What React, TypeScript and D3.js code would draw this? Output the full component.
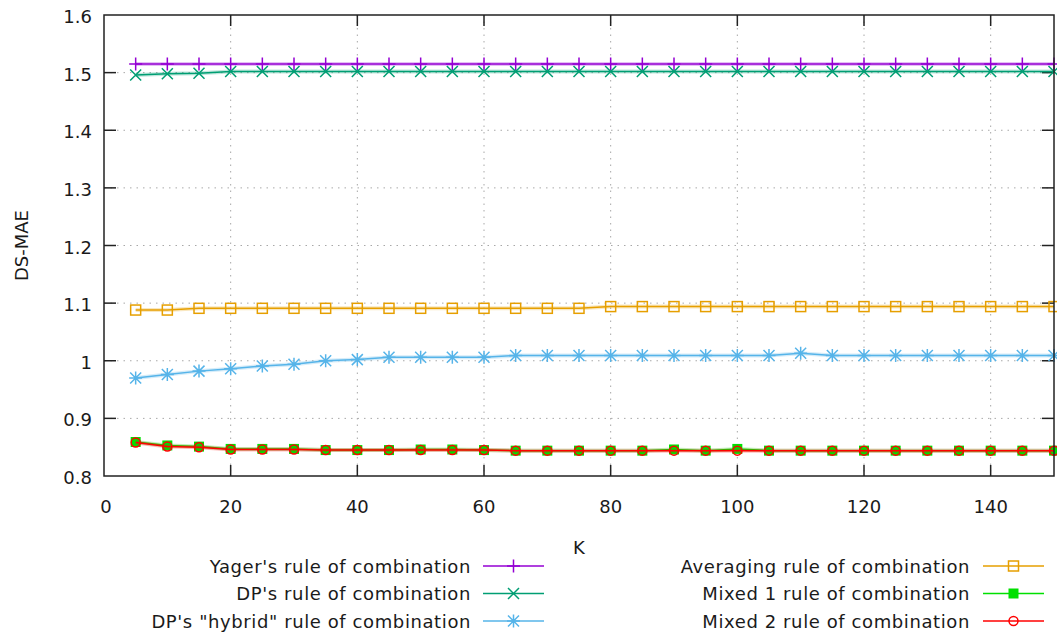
import React from "react";
import * as d3 from "d3";

const kValues = [5, 10, 15, 20, 25, 30, 35, 40, 45, 50, 55, 60, 65, 70, 75, 80, 85, 90, 95, 100, 105, 110, 115, 120, 125, 130, 135, 140, 145, 150];

const yager = [1.515, 1.515, 1.515, 1.515, 1.515, 1.515, 1.515, 1.515, 1.515, 1.515, 1.515, 1.515, 1.515, 1.515, 1.515, 1.515, 1.515, 1.515, 1.515, 1.515, 1.515, 1.515, 1.515, 1.515, 1.515, 1.515, 1.515, 1.515, 1.515, 1.515];
const dp = [1.496, 1.498, 1.499, 1.502, 1.502, 1.502, 1.502, 1.502, 1.502, 1.502, 1.502, 1.502, 1.502, 1.502, 1.502, 1.502, 1.502, 1.502, 1.502, 1.502, 1.502, 1.502, 1.502, 1.502, 1.502, 1.502, 1.502, 1.502, 1.502, 1.502];
const hybrid = [0.970, 0.976, 0.982, 0.986, 0.991, 0.994, 1.000, 1.002, 1.006, 1.006, 1.006, 1.006, 1.009, 1.009, 1.009, 1.009, 1.009, 1.009, 1.009, 1.009, 1.009, 1.013, 1.009, 1.009, 1.009, 1.009, 1.009, 1.009, 1.009, 1.009];
const averaging = [1.088, 1.088, 1.091, 1.091, 1.091, 1.091, 1.091, 1.091, 1.091, 1.091, 1.091, 1.091, 1.091, 1.091, 1.091, 1.094, 1.094, 1.094, 1.094, 1.094, 1.094, 1.094, 1.094, 1.094, 1.094, 1.094, 1.094, 1.094, 1.094, 1.094];
const mixed1 = [0.859, 0.853, 0.851, 0.847, 0.847, 0.847, 0.845, 0.845, 0.845, 0.846, 0.846, 0.845, 0.844, 0.844, 0.844, 0.844, 0.844, 0.846, 0.844, 0.847, 0.844, 0.844, 0.844, 0.844, 0.844, 0.844, 0.844, 0.844, 0.844, 0.844];
const mixed2 = [0.858, 0.851, 0.850, 0.846, 0.846, 0.846, 0.845, 0.845, 0.845, 0.845, 0.845, 0.845, 0.844, 0.844, 0.844, 0.844, 0.844, 0.844, 0.844, 0.844, 0.844, 0.844, 0.844, 0.844, 0.844, 0.844, 0.844, 0.844, 0.844, 0.844];

const xTicks = [0, 20, 40, 60, 80, 100, 120, 140];
const yTicks = [0.8, 0.9, 1, 1.1, 1.2, 1.3, 1.4, 1.5, 1.6];

const series = [
  { name: "Yager's rule of combination", values: yager, color: "#9400d3", marker: "plus" },
  { name: "DP's rule of combination", values: dp, color: "#009e73", marker: "cross" },
  { name: "DP's \"hybrid\" rule of combination", values: hybrid, color: "#56b4e9", marker: "star" },
  { name: "Averaging rule of combination", values: averaging, color: "#e69f00", marker: "square" },
  { name: "Mixed 1 rule of combination", values: mixed1, color: "#00e000", marker: "filledSquare" },
  { name: "Mixed 2 rule of combination", values: mixed2, color: "#ff0000", marker: "circle" },
];

const W = 1057;
const H = 636;
const left = 104;
const right = 1054;
const top = 15;
const bottom = 476;
const font = "'DejaVu Sans', Verdana, sans-serif";
const textColor = "#1a1a1a";

const Marker = ({ type, x, y, color }: { type: string; x: number; y: number; color: string }) => {
  const sw = 1.5;
  if (type === "plus") {
    return <path d={`M${x - 6.5},${y}H${x + 6.5}M${x},${y - 6.5}V${y + 6.5}`} stroke={color} strokeWidth={sw} fill="none" />;
  }
  if (type === "cross") {
    const s = 5.5;
    return <path d={`M${x - s},${y - s}L${x + s},${y + s}M${x - s},${y + s}L${x + s},${y - s}`} stroke={color} strokeWidth={sw} fill="none" />;
  }
  if (type === "star") {
    const s = 5.5;
    return (
      <path
        d={`M${x - s},${y - s}L${x + s},${y + s}M${x - s},${y + s}L${x + s},${y - s}M${x - 6.5},${y}H${x + 6.5}M${x},${y - 6.5}V${y + 6.5}`}
        stroke={color}
        strokeWidth={sw}
        fill="none"
      />
    );
  }
  if (type === "square") {
    return <rect x={x - 5} y={y - 5} width={10} height={10} stroke={color} strokeWidth={sw} fill="none" />;
  }
  if (type === "filledSquare") {
    return <rect x={x - 5} y={y - 5} width={10} height={10} fill={color} />;
  }
  return <circle cx={x} cy={y} r={4.5} stroke={color} strokeWidth={sw} fill="none" />;
};

const App = () => {
  const x = d3.scaleLinear().domain([0, 150]).range([left, right]);
  const y = d3.scaleLinear().domain([0.8, 1.6]).range([bottom, top]);

  const line = d3
    .line<number>()
    .x((_, i) => x(kValues[i]))
    .y((d) => y(d));

  const legendRows = [566, 593.5, 621];

  return (
    <svg
      width={W}
      height={H}
      viewBox={`0 0 ${W} ${H}`}
      style={{ position: "absolute", left: 0, top: 0, background: "#fff" }}
      fontFamily={font}
    >
      <rect width={W} height={H} fill="#fff" />

      {/* grid */}
      {xTicks.slice(1).map((t) => (
        <line key={"gx" + t} x1={x(t)} x2={x(t)} y1={top} y2={bottom} stroke="#a8a8a8" strokeWidth={1} strokeDasharray="1.5,5" />
      ))}
      {yTicks.slice(1, -1).map((t) => (
        <line key={"gy" + t} x1={left} x2={right} y1={y(t)} y2={y(t)} stroke="#a8a8a8" strokeWidth={1} strokeDasharray="1.5,5" />
      ))}

      {/* ticks, mirrored on all sides */}
      {xTicks.slice(1).map((t) => (
        <g key={"tx" + t} stroke="#222" strokeWidth={1.5}>
          <line x1={x(t)} x2={x(t)} y1={bottom} y2={bottom - 11} />
          <line x1={x(t)} x2={x(t)} y1={top} y2={top + 11} />
        </g>
      ))}
      {yTicks.slice(1, -1).map((t) => (
        <g key={"ty" + t} stroke="#222" strokeWidth={1.5}>
          <line x1={left} x2={left + 12} y1={y(t)} y2={y(t)} />
          <line x1={right} x2={right - 12} y1={y(t)} y2={y(t)} />
        </g>
      ))}

      {/* series */}
      {series.map((s) => (
        <g key={s.name}>
          <path d={line(s.values) || ""} fill="none" stroke={s.color} strokeWidth={4} strokeOpacity={0.25} />
          <path d={line(s.values) || ""} fill="none" stroke={s.color} strokeWidth={1.5} />
          {s.values.map((v, i) => (
            <Marker key={i} type={s.marker} x={x(kValues[i])} y={y(v)} color={s.color} />
          ))}
        </g>
      ))}

      {/* frame */}
      <rect x={left} y={top} width={right - left} height={bottom - top} fill="none" stroke="#222" strokeWidth={1.5} />

      {/* tick labels */}
      {yTicks.map((t) => (
        <text key={"ly" + t} x={92} y={y(t) + 8} textAnchor="end" fontSize={18} fill={textColor}>
          {t === 1 ? "1" : t.toFixed(1)}
        </text>
      ))}
      {xTicks.map((t) => (
        <text key={"lx" + t} x={x(t) + (t === 0 ? 2 : 0)} y={512.5} textAnchor="middle" fontSize={18} fill={textColor}>
          {t}
        </text>
      ))}

      {/* axis titles */}
      <text x={(left + right) / 2} y={553.5} textAnchor="middle" fontSize={18} fill={textColor}>
        K
      </text>
      <text transform={`translate(28,${(top + bottom) / 2}) rotate(-90)`} textAnchor="middle" fontSize={18} fill={textColor}>
        DS-MAE
      </text>

      {/* legend */}
      {series.map((s, i) => {
        const col = i < 3 ? 0 : 1;
        const row = i % 3;
        const textRight = col === 0 ? 471 : 970;
        const x0 = col === 0 ? 483 : 983;
        const x1 = x0 + 61;
        const cy = legendRows[row];
        return (
          <g key={"lg" + s.name}>
            <text x={textRight} y={cy + 6.5} textAnchor="end" fontSize={18} letterSpacing={0.6} fill={textColor}>
              {s.name}
            </text>
            <line x1={x0} x2={x1} y1={cy} y2={cy} stroke={s.color} strokeWidth={1.5} />
            <Marker type={s.marker} x={(x0 + x1) / 2} y={cy} color={s.color} />
          </g>
        );
      })}
    </svg>
  );
};

export default App;
